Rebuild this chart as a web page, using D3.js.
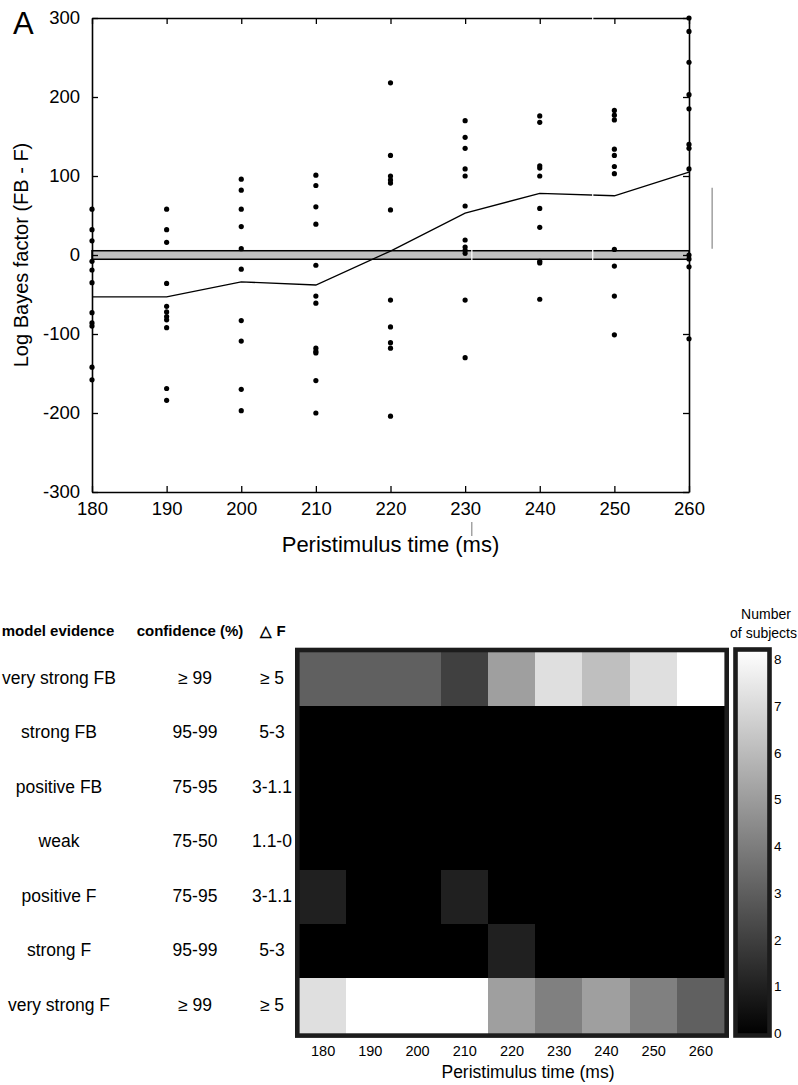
<!DOCTYPE html>
<html>
<head>
<meta charset="utf-8">
<script src="https://cdn.jsdelivr.net/npm/d3@7"></script>
<style>
  body { margin: 0; background: #fff; }
  svg { display: block; font-family: "Liberation Sans", Arial, sans-serif; }
</style>
</head>
<body>
<svg id="fig" width="798" height="1085"></svg>
<script>
// ---- data ----
var times = [180, 190, 200, 210, 220, 230, 240, 250, 260];

// per-subject log Bayes factors at each time point
var subjectBF = [
    [58, 32, 18, -8, -19, -35, -73, -86, -90, -142, -158],
    [58, 32, 16, -36, -65, -72, -78, -82, -92, -169, -184],
    [96, 82, 58, 36, 8, -18, -83, -109, -170, -197],
    [101, 88, 61, 39, -13, -52, -61, -118, -122, -124, -159, -200],
    [218, 126, 100, 95, 91, 57, -57, -91, -111, -118, -204],
    [170, 149, 135, 109, 100, 62, 19, 10, 6, 2, -57, -130],
    [176, 168, 113, 110, 100, 59, 35, -8, -10, -56],
    [183, 177, 171, 134, 126, 112, 103, 7, -14, -52, -101],
    [300, 283, 244, 203, 185, 140, 135, 109, 0, -5, -15, -106]
];
var meanBF = [-53, -53, -34, -38, 5, 53, 78, 75, 105];
var bandLimit = 5.4;

var yTicksTop = [-300, -200, -100, 0, 100, 200, 300];

var evidence = ["very strong FB", "strong FB", "positive FB", "weak", "positive F", "strong F", "very strong F"];
var confidence = ["\u2265 99", "95-99", "75-95", "75-50", "75-95", "95-99", "\u2265 99"];
var deltaF = ["\u2265 5", "5-3", "3-1.1", "1.1-0", "3-1.1", "5-3", "\u2265 5"];

// number of subjects per evidence category (rows) and time (columns)
var counts = [
    [3, 3, 3, 2, 5, 7, 6, 7, 8],
    [0, 0, 0, 0, 0, 0, 0, 0, 0],
    [0, 0, 0, 0, 0, 0, 0, 0, 0],
    [0, 0, 0, 0, 0, 0, 0, 0, 0],
    [1, 0, 0, 1, 0, 0, 0, 0, 0],
    [0, 0, 0, 0, 1, 0, 0, 0, 0],
    [7, 8, 8, 8, 5, 4, 5, 4, 3]
];
var cbTicks = [0, 1, 2, 3, 4, 5, 6, 7, 8];

var svg = d3.select("#fig");

//========= top panel: scatter of Bayes factors
var x = d3.scaleLinear([180, 260], [92, 689]);
var y = d3.scaleLinear([-300, 300], [492, 18]);

var topPanel = svg.append("g");

// grey band around zero
topPanel.append("rect")
    .attr("x", x(180)).attr("width", x(260) - x(180))
    .attr("y", y(bandLimit)).attr("height", y(-bandLimit) - y(bandLimit))
    .attr("fill", "#c0c0c0").attr("stroke", "#000").attr("stroke-width", 1.5);

// points
times.forEach(function(t, i){
    topPanel.selectAll(null)
        .data(subjectBF[i])
        .enter().append("circle")
        .attr("cx", x(t))
        .attr("cy", d => y(d))
        .attr("r", 2.6)
        .attr("fill", "#000");
});

// mean line
topPanel.append("path")
    .datum(meanBF)
    .attr("fill", "none").attr("stroke", "#000").attr("stroke-width", 1.3)
    .attr("d", d3.line().x((d, i) => x(times[i])).y(d => y(d)));

// axes box with inward ticks on all sides
var plain = d => String(d);
topPanel.append("g").attr("transform", "translate(0," + y(-300) + ")")
    .call(d3.axisBottom(x).tickValues(times).tickSizeInner(-6).tickSizeOuter(0).tickPadding(10).tickFormat(plain))
    .call(g => g.selectAll("text").attr("font-size", 18.5).attr("fill", "#000"));
topPanel.append("g").attr("transform", "translate(0," + y(300) + ")")
    .call(d3.axisTop(x).tickValues(times).tickSizeInner(-6).tickSizeOuter(0).tickFormat(""));
topPanel.append("g").attr("transform", "translate(" + x(180) + ",0)")
    .call(d3.axisLeft(y).tickValues(yTicksTop).tickSizeInner(-6).tickSizeOuter(0).tickPadding(12).tickFormat(plain))
    .call(g => g.selectAll("text").attr("font-size", 18.5).attr("fill", "#000"));
topPanel.append("g").attr("transform", "translate(" + x(260) + ",0)")
    .call(d3.axisRight(y).tickValues(yTicksTop).tickSizeInner(-6).tickSizeOuter(0).tickFormat(""));
topPanel.selectAll(".domain").attr("stroke", "#000").attr("stroke-width", 1.6);
topPanel.selectAll(".tick line").attr("stroke", "#000").attr("stroke-width", 1.3);

// small scan marks seen in the original
topPanel.append("line").attr("x1", x(247.1)).attr("x2", x(247.1)).attr("y1", 14).attr("y2", 264)
    .attr("stroke", "#fff").attr("stroke-width", 1.2);
topPanel.append("line").attr("x1", x(230.9)).attr("x2", x(230.9)).attr("y1", 248).attr("y2", 262)
    .attr("stroke", "#fff").attr("stroke-width", 1.2);
topPanel.append("line").attr("x1", x(230.9)).attr("x2", x(230.9)).attr("y1", 522).attr("y2", 536)
    .attr("stroke", "#777").attr("stroke-width", 1);
topPanel.append("line").attr("x1", x(263.1)).attr("x2", x(263.1)).attr("y1", y(85)).attr("y2", y(8))
    .attr("stroke", "#888").attr("stroke-width", 1.2);

topPanel.append("text").attr("x", 13).attr("y", 34).attr("font-size", 31).text("A");
topPanel.append("text")
    .attr("transform", "translate(28," + y(0) + ") rotate(-90)")
    .attr("text-anchor", "middle").attr("font-size", 20)
    .text("Log Bayes factor (FB - F)");
topPanel.append("text").attr("x", (x(180) + x(260)) / 2).attr("y", 552)
    .attr("text-anchor", "middle").attr("font-size", 22)
    .text("Peristimulus time (ms)");

//========= bottom panel: evidence table + heat map
var xh = d3.scaleBand(times, [299.5, 724.5]);
var yh = d3.scaleBand(evidence, [652.3, 1033.3]);
var grey = d3.scaleLinear([0, 8], ["#000", "#fff"]);

var bot = svg.append("g");

counts.forEach(function(row, r){
    bot.selectAll(null)
        .data(row)
        .enter().append("rect")
        .attr("x", (d, c) => Math.floor(xh(times[c])))
        .attr("y", Math.floor(yh(evidence[r])))
        .attr("width", Math.ceil(xh.bandwidth()) + 1)
        .attr("height", Math.ceil(yh.bandwidth()) + 1)
        .attr("shape-rendering", "crispEdges")
        .attr("fill", d => grey(d));
});
bot.append("rect")
    .attr("x", 297.3).attr("y", 650).attr("width", 429.4).attr("height", 385.6)
    .attr("fill", "none").attr("stroke", "#1c1c1c").attr("stroke-width", 4.6);

bot.selectAll(null).data(times).enter().append("text")
    .attr("x", d => xh(d) + xh.bandwidth() / 2).attr("y", 1056)
    .attr("text-anchor", "middle").attr("font-size", 14.5)
    .text(d => d);
bot.append("text").attr("x", 528).attr("y", 1078)
    .attr("text-anchor", "middle").attr("font-size", 17.5)
    .text("Peristimulus time (ms)");

// table
var head = [["model evidence", 58], ["confidence (%)", 190], ["\u25B3 F", 273]];
bot.selectAll(null).data(head).enter().append("text")
    .attr("x", d => d[1]).attr("y", 636)
    .attr("text-anchor", "middle").attr("font-size", 15).attr("font-weight", "bold")
    .text(d => d[0]);

[[evidence, 59], [confidence, 195], [deltaF, 272]].forEach(function(col){
    bot.selectAll(null).data(col[0]).enter().append("text")
        .attr("x", col[1])
        .attr("y", (d, i) => yh(evidence[i]) + yh.bandwidth() / 2 + 4.5)
        .attr("text-anchor", "middle").attr("font-size", 17.5)
        .text(d => d);
});

// colour bar
var defs = svg.append("defs");
var grad = defs.append("linearGradient").attr("id", "cb")
    .attr("x1", 0).attr("y1", 1).attr("x2", 0).attr("y2", 0);
grad.append("stop").attr("offset", 0).attr("stop-color", "#000");
grad.append("stop").attr("offset", 1).attr("stop-color", "#fff");

var ycb = d3.scaleLinear([0, 8], [1033, 659]);
bot.append("rect")
    .attr("x", 735.5).attr("y", 649.5).attr("width", 34).attr("height", 386)
    .attr("fill", "url(#cb)").attr("stroke", "#1c1c1c").attr("stroke-width", 4.6);
bot.selectAll(null).data(cbTicks).enter().append("text")
    .attr("x", 774).attr("y", d => ycb(d) + 5)
    .attr("font-size", 13.5)
    .text(d => d);
bot.append("text").attr("x", 766).attr("y", 619)
    .attr("text-anchor", "middle").attr("font-size", 14).text("Number");
bot.append("text").attr("x", 797).attr("y", 638)
    .attr("text-anchor", "end").attr("font-size", 14).text("of subjects");
</script>
</body>
</html>
